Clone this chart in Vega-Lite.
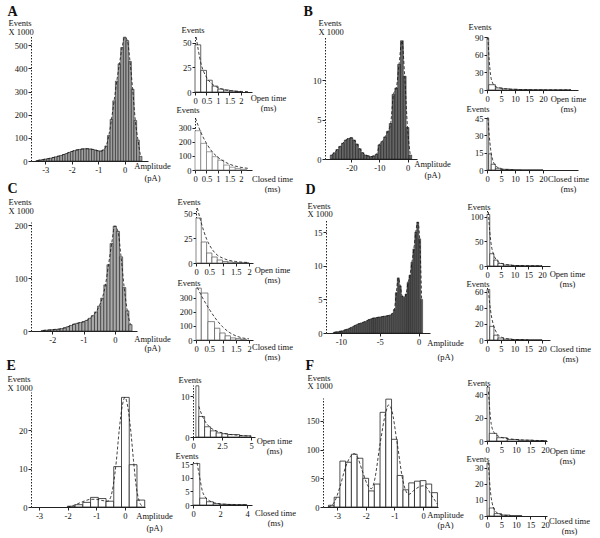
{
"$schema": "https://vega.github.io/schema/vega-lite/v6.json",
"autosize": {"type": "none"},
"width": 569, "height": 502,
"padding": {"left": 31, "top": 36, "right": 0, "bottom": 0},
"background": "white",
"config": {
  "view": {"stroke": null},
  "axis": {"labelFont": "Liberation Serif", "labelFontSize": 8.5, "labelColor": "#111", "titleFont": "Liberation Serif", "titleFontSize": 8.5, "titleFontWeight": "normal", "titleColor": "#111", "grid": false, "domainColor": "#222", "tickColor": "#222", "tickSize": 3, "labelPadding": 1, "titleAngle": 0, "labelOverlap": false, "labelFlush": false},
  "axisY": {"domainDash": [1.5, 1.5], "titleAlign": "left", "titleBaseline": "alphabetic"},
  "axisX": {"titleAlign": "center", "titleBaseline": "alphabetic"}
},
"datasets": {
  "A": [{"a":-3.3,"n":2},{"a":-3.2,"n":4},{"a":-3.1,"n":6},{"a":-3.0,"n":8},{"a":-2.9,"n":10},{"a":-2.8,"n":12},{"a":-2.7,"n":15},{"a":-2.6,"n":18},{"a":-2.5,"n":21},{"a":-2.4,"n":24},{"a":-2.3,"n":28},{"a":-2.2,"n":32},{"a":-2.1,"n":37},{"a":-2.0,"n":41},{"a":-1.9,"n":45},{"a":-1.8,"n":48},{"a":-1.7,"n":50},{"a":-1.6,"n":52},{"a":-1.5,"n":53},{"a":-1.4,"n":53},{"a":-1.3,"n":52},{"a":-1.2,"n":50},{"a":-1.1,"n":47},{"a":-1.0,"n":44},{"a":-0.9,"n":43},{"a":-0.8,"n":48},{"a":-0.7,"n":65},{"a":-0.6,"n":110},{"a":-0.5,"n":180},{"a":-0.4,"n":260},{"a":-0.3,"n":345},{"a":-0.2,"n":420},{"a":-0.1,"n":490},{"a":0.0,"n":535},{"a":0.1,"n":520},{"a":0.2,"n":430},{"a":0.3,"n":310},{"a":0.4,"n":175},{"a":0.5,"n":90},{"a":0.6,"n":20}],
  "B": [{"a":-27,"n":0.5},{"a":-26,"n":0.8},{"a":-25,"n":1.2},{"a":-24,"n":1.6},{"a":-23,"n":2.0},{"a":-22,"n":2.4},{"a":-21,"n":2.6},{"a":-20,"n":2.7},{"a":-19,"n":2.4},{"a":-18,"n":1.9},{"a":-17,"n":1.3},{"a":-16,"n":0.8},{"a":-15,"n":0.5},{"a":-14,"n":0.4},{"a":-13,"n":0.3},{"a":-12,"n":0.4},{"a":-11,"n":0.6},{"a":-10,"n":1.8},{"a":-9,"n":2.2},{"a":-8,"n":2.8},{"a":-7,"n":3.5},{"a":-6,"n":4.5},{"a":-5,"n":8.2},{"a":-4,"n":9.0},{"a":-3,"n":12.0},{"a":-2,"n":15.0},{"a":-1,"n":10.5},{"a":0,"n":4.0},{"a":1,"n":0.5}],
  "C": [{"a":-2.3,"n":1},{"a":-2.2,"n":1.5},{"a":-2.1,"n":2},{"a":-2.0,"n":2.5},{"a":-1.9,"n":3},{"a":-1.8,"n":3.5},{"a":-1.7,"n":4.5},{"a":-1.6,"n":6},{"a":-1.5,"n":8},{"a":-1.4,"n":10.5},{"a":-1.3,"n":13},{"a":-1.2,"n":14.5},{"a":-1.1,"n":16},{"a":-1.0,"n":17.5},{"a":-0.9,"n":20},{"a":-0.8,"n":24},{"a":-0.7,"n":29},{"a":-0.6,"n":36},{"a":-0.5,"n":47},{"a":-0.4,"n":62},{"a":-0.3,"n":87},{"a":-0.2,"n":125},{"a":-0.1,"n":165},{"a":0.0,"n":198},{"a":0.1,"n":188},{"a":0.2,"n":140},{"a":0.3,"n":82},{"a":0.4,"n":38},{"a":0.5,"n":12}],
  "D": [{"a":-10.875,"n":0.1},{"a":-10.625,"n":0.15},{"a":-10.375,"n":0.2},{"a":-10.125,"n":0.25},{"a":-9.875,"n":0.3},{"a":-9.625,"n":0.4},{"a":-9.375,"n":0.5},{"a":-9.125,"n":0.6},{"a":-8.875,"n":0.7},{"a":-8.625,"n":0.85},{"a":-8.375,"n":1.0},{"a":-8.125,"n":1.15},{"a":-7.875,"n":1.3},{"a":-7.625,"n":1.4},{"a":-7.375,"n":1.5},{"a":-7.125,"n":1.6},{"a":-6.875,"n":1.7},{"a":-6.625,"n":1.85},{"a":-6.375,"n":2.0},{"a":-6.125,"n":2.1},{"a":-5.875,"n":2.2},{"a":-5.625,"n":2.25},{"a":-5.375,"n":2.3},{"a":-5.125,"n":2.35},{"a":-4.875,"n":2.4},{"a":-4.625,"n":2.45},{"a":-4.375,"n":2.5},{"a":-4.125,"n":2.55},{"a":-3.875,"n":2.6},{"a":-3.625,"n":2.7},{"a":-3.375,"n":2.9},{"a":-3.125,"n":3.5},{"a":-2.875,"n":6.0},{"a":-2.625,"n":8.2},{"a":-2.375,"n":7.0},{"a":-2.125,"n":5.5},{"a":-1.875,"n":5.3},{"a":-1.625,"n":5.8},{"a":-1.375,"n":7.5},{"a":-1.125,"n":8.6},{"a":-0.875,"n":10.5},{"a":-0.625,"n":12.5},{"a":-0.375,"n":15.0},{"a":-0.125,"n":16.5},{"a":0.125,"n":14.0},{"a":0.375,"n":5.0}],
  "E_b": [{"a":-2.01,"a2":-1.74,"n":0.2},{"a":-1.74,"a2":-1.47,"n":0.6},{"a":-1.47,"a2":-1.2,"n":1.2},{"a":-1.2,"a2":-0.93,"n":2.5},{"a":-0.93,"a2":-0.66,"n":2.2},{"a":-0.66,"a2":-0.39,"n":1.5},{"a":-0.39,"a2":-0.12,"n":10.5},{"a":-0.12,"a2":0.15,"n":28.5},{"a":0.15,"a2":0.42,"n":11},{"a":0.42,"a2":0.69,"n":1.8}],
  "E_c": [{"a":-2.0,"n":0},{"a":-1.8,"n":0.4},{"a":-1.6,"n":1.0},{"a":-1.4,"n":1.6},{"a":-1.2,"n":2.0},{"a":-1.0,"n":2.0},{"a":-0.8,"n":1.7},{"a":-0.6,"n":1.5},{"a":-0.5,"n":2.5},{"a":-0.4,"n":6},{"a":-0.3,"n":12},{"a":-0.2,"n":20},{"a":-0.1,"n":26},{"a":0.0,"n":28.5},{"a":0.1,"n":26},{"a":0.2,"n":20},{"a":0.3,"n":12},{"a":0.4,"n":5},{"a":0.5,"n":1.5},{"a":0.6,"n":0.2}],
  "F_b": [{"a":-3.3,"a2":-3.1,"n":3},{"a":-3.1,"a2":-2.9,"n":17},{"a":-2.9,"a2":-2.7,"n":80},{"a":-2.7,"a2":-2.5,"n":78},{"a":-2.5,"a2":-2.3,"n":92},{"a":-2.3,"a2":-2.1,"n":85},{"a":-2.1,"a2":-1.9,"n":50},{"a":-1.9,"a2":-1.7,"n":28},{"a":-1.7,"a2":-1.5,"n":40},{"a":-1.5,"a2":-1.3,"n":165},{"a":-1.3,"a2":-1.1,"n":188},{"a":-1.1,"a2":-0.9,"n":118},{"a":-0.9,"a2":-0.7,"n":55},{"a":-0.7,"a2":-0.5,"n":30},{"a":-0.5,"a2":-0.3,"n":42},{"a":-0.3,"a2":-0.1,"n":45},{"a":-0.1,"a2":0.1,"n":46},{"a":0.1,"a2":0.3,"n":40},{"a":0.3,"a2":0.5,"n":25}],
  "F_c": [{"a":-3.3,"n":0},{"a":-3.1,"n":8},{"a":-2.9,"n":35},{"a":-2.7,"n":70},{"a":-2.5,"n":90},{"a":-2.4,"n":93},{"a":-2.3,"n":88},{"a":-2.1,"n":60},{"a":-1.9,"n":35},{"a":-1.8,"n":32},{"a":-1.7,"n":45},{"a":-1.5,"n":110},{"a":-1.3,"n":165},{"a":-1.2,"n":178},{"a":-1.1,"n":170},{"a":-0.9,"n":110},{"a":-0.7,"n":45},{"a":-0.5,"n":22},{"a":-0.3,"n":30},{"a":-0.1,"n":36},{"a":0.0,"n":37},{"a":0.1,"n":35},{"a":0.3,"n":20},{"a":0.5,"n":5}],
  "Ao_b": [{"t":0,"t2":0.25,"n":48},{"t":0.25,"t2":0.5,"n":22},{"t":0.5,"t2":0.75,"n":12},{"t":0.75,"t2":1,"n":6},{"t":1,"t2":1.25,"n":3},{"t":1.25,"t2":1.5,"n":2},{"t":1.5,"t2":1.75,"n":1},{"t":1.75,"t2":2,"n":0.5}],
  "Ao_c": [{"t":0.05,"n":56},{"t":0.25,"n":30},{"t":0.5,"n":15},{"t":0.75,"n":8},{"t":1,"n":4.5},{"t":1.25,"n":2.5},{"t":1.5,"n":1.5},{"t":1.75,"n":1},{"t":2,"n":0.6},{"t":2.3,"n":0.4}],
  "Ac_b": [{"t":0,"t2":0.25,"n":280},{"t":0.25,"t2":0.5,"n":190},{"t":0.5,"t2":0.75,"n":130},{"t":0.75,"t2":1,"n":95},{"t":1,"t2":1.25,"n":70},{"t":1.25,"t2":1.5,"n":35},{"t":1.5,"t2":1.75,"n":20},{"t":1.75,"t2":2,"n":10},{"t":2,"t2":2.25,"n":5}],
  "Ac_c": [{"t":0.02,"n":370},{"t":0.25,"n":270},{"t":0.5,"n":190},{"t":0.75,"n":130},{"t":1,"n":90},{"t":1.25,"n":62},{"t":1.5,"n":42},{"t":1.75,"n":28},{"t":2,"n":19},{"t":2.3,"n":12}],
  "Co_b": [{"t":0,"t2":0.2,"n":45},{"t":0.2,"t2":0.4,"n":21},{"t":0.4,"t2":0.6,"n":10},{"t":0.6,"t2":0.8,"n":6},{"t":0.8,"t2":1.0,"n":3},{"t":1.0,"t2":1.2,"n":1.5},{"t":1.2,"t2":1.4,"n":1},{"t":1.4,"t2":1.6,"n":0.5},{"t":1.6,"t2":1.8,"n":0.3},{"t":1.8,"t2":2.0,"n":0.2}],
  "Co_c": [{"t":0.05,"n":55},{"t":0.2,"n":40},{"t":0.4,"n":24},{"t":0.6,"n":14},{"t":0.8,"n":8},{"t":1.0,"n":5},{"t":1.2,"n":3},{"t":1.5,"n":1.5},{"t":2,"n":0.5}],
  "Cc_b": [{"t":0,"t2":0.2,"n":370},{"t":0.2,"t2":0.45,"n":335},{"t":0.45,"t2":0.7,"n":131},{"t":0.7,"t2":0.9,"n":84},{"t":0.9,"t2":1.1,"n":50},{"t":1.1,"t2":1.3,"n":30},{"t":1.3,"t2":1.5,"n":15},{"t":1.5,"t2":1.7,"n":10},{"t":1.7,"t2":1.9,"n":5}],
  "Cc_c": [{"t":0.05,"n":375},{"t":0.25,"n":300},{"t":0.5,"n":220},{"t":0.75,"n":150},{"t":1.0,"n":95},{"t":1.25,"n":55},{"t":1.5,"n":30},{"t":1.75,"n":15},{"t":2,"n":8}],
  "Eo_b": [{"t":0.25,"t2":0.5,"n":12.5},{"t":0.5,"t2":1.0,"n":5},{"t":1.0,"t2":1.5,"n":2.5},{"t":1.5,"t2":2.0,"n":1.5},{"t":2,"t2":2.5,"n":1},{"t":2.5,"t2":3,"n":0.8},{"t":3,"t2":4,"n":0.6},{"t":4,"t2":5,"n":0.3}],
  "Eo_c": [{"t":0.5,"n":7.5},{"t":0.75,"n":5.5},{"t":1,"n":4},{"t":1.5,"n":2.3},{"t":2,"n":1.5},{"t":2.5,"n":1},{"t":3,"n":0.7},{"t":4,"n":0.4},{"t":5,"n":0.2}],
  "Ec_b": [{"t":0,"t2":0.5,"n":15.2},{"t":0.5,"t2":1.0,"n":2.5},{"t":1.0,"t2":1.5,"n":1.2},{"t":1.5,"t2":2,"n":0.5},{"t":2,"t2":2.5,"n":0.3},{"t":2.5,"t2":3,"n":0.2},{"t":3,"t2":4,"n":0.1}],
  "Ec_c": [{"t":0.3,"n":15.5},{"t":0.5,"n":10},{"t":0.7,"n":5},{"t":0.9,"n":3},{"t":1.2,"n":1.6},{"t":1.6,"n":0.8},{"t":2,"n":0.4},{"t":3,"n":0.15},{"t":4,"n":0.05}],
  "Bo_b": [{"t":0,"t2":0.6,"n":88},{"t":0.6,"t2":3,"n":9},{"t":3,"t2":5.5,"n":3.5},{"t":5.5,"t2":8,"n":2},{"t":8,"t2":11,"n":1.2},{"t":11,"t2":15,"n":0.6},{"t":15,"t2":20,"n":0.3},{"t":20,"t2":30,"n":0.1}],
  "Bo_c": [{"t":0.3,"n":90},{"t":0.8,"n":50},{"t":1.3,"n":25},{"t":2,"n":12},{"t":3,"n":6},{"t":5,"n":3},{"t":8,"n":1.6},{"t":12,"n":0.8},{"t":20,"n":0.2},{"t":30,"n":0.05}],
  "Bc_b": [{"t":0,"t2":0.6,"n":45},{"t":0.6,"t2":1.5,"n":14},{"t":1.5,"t2":3,"n":5},{"t":3,"t2":5,"n":1.5},{"t":5,"t2":8,"n":0.6},{"t":8,"t2":12,"n":0.3},{"t":12,"t2":20,"n":0.1}],
  "Bc_c": [{"t":0.3,"n":45.5},{"t":0.8,"n":30},{"t":1.3,"n":18},{"t":2,"n":9},{"t":3,"n":4},{"t":4,"n":2},{"t":6,"n":0.6},{"t":10,"n":0.1}],
  "Do_b": [{"t":0,"t2":1,"n":105},{"t":1,"t2":2.5,"n":25},{"t":2.5,"t2":4,"n":12},{"t":4,"t2":6,"n":5},{"t":6,"t2":9,"n":2},{"t":9,"t2":13,"n":1},{"t":13,"t2":20,"n":0.4}],
  "Do_c": [{"t":0.5,"n":110},{"t":1,"n":70},{"t":1.5,"n":45},{"t":2.5,"n":22},{"t":3.5,"n":12},{"t":5,"n":6},{"t":7,"n":3},{"t":10,"n":1.2},{"t":15,"n":0.4},{"t":20,"n":0.1}],
  "Dc_b": [{"t":0,"t2":1,"n":63},{"t":1,"t2":2.5,"n":17},{"t":2.5,"t2":4,"n":6},{"t":4,"t2":6,"n":2.5},{"t":6,"t2":9,"n":1.2},{"t":9,"t2":13,"n":0.6},{"t":13,"t2":20,"n":0.3}],
  "Dc_c": [{"t":0.5,"n":62},{"t":1,"n":45},{"t":1.5,"n":32},{"t":2.5,"n":17},{"t":3.5,"n":9},{"t":5,"n":4},{"t":7,"n":1.8},{"t":10,"n":0.6},{"t":15,"n":0.15}],
  "Fo_b": [{"t":0,"t2":0.8,"n":46},{"t":0.8,"t2":3.4,"n":6.5},{"t":3.4,"t2":7,"n":2.8},{"t":7,"t2":11,"n":1.3},{"t":11,"t2":16,"n":0.7},{"t":16,"t2":20.5,"n":0.3}],
  "Fo_c": [{"t":0.5,"n":42},{"t":1,"n":25},{"t":1.5,"n":14},{"t":2.5,"n":7},{"t":4,"n":4},{"t":6,"n":2.5},{"t":9,"n":1.5},{"t":13,"n":0.8},{"t":18,"n":0.4},{"t":20.5,"n":0.25}],
  "Fc_b": [{"t":0,"t2":0.8,"n":33},{"t":0.8,"t2":2.5,"n":5},{"t":2.5,"t2":5,"n":1.5},{"t":5,"t2":8,"n":0.6},{"t":8,"t2":12,"n":0.3}],
  "Fc_c": [{"t":0.4,"n":33.5},{"t":0.8,"n":24},{"t":1.2,"n":15},{"t":1.8,"n":8},{"t":2.5,"n":4},{"t":3.5,"n":2},{"t":5,"n":0.8},{"t":8,"n":0.2}]
},
"layer": [
 {"data": {"name": "A"},
  "layer": [
   {"mark": {"type": "bar", "width": 2.7, "fill": "#a0a0a0", "stroke": "#222", "strokeWidth": 0.6},
    "encoding": {
     "x": {"field": "a", "type": "quantitative", "scale": {"domain": [-3.35, 0.69], "range": [0, 117], "nice": false, "zero": false}, "axis": {"orient": "bottom", "offset": -377, "values": [-3,-2,-1,0], "labelExpr": "datum.value + ''", "title": ["Amplitude", "(pA)"], "titleX": 121, "titleY": 7, "titleLineHeight": 12}},
     "y": {"field": "n", "type": "quantitative", "scale": {"domain": [0, 540], "range": [125, 0], "nice": false}, "axis": {"orient": "left", "offset": 0, "values": [0,100,200,300,400,500], "labelExpr": "datum.value + ''", "title": ["Events", "X 1000"], "titleX": -23, "titleY": -11, "titleLineHeight": 9}}}},
   {"mark": {"type": "line", "strokeDash": [3, 2], "stroke": "#111", "strokeWidth": 0.8, "interpolate": "monotone"},
    "encoding": {
     "x": {"field": "a", "type": "quantitative"},
     "y": {"field": "n", "type": "quantitative", "scale": {"domain": [0, 540], "range": [125, 0], "nice": false}, "axis": {"orient": "left", "offset": 0, "title": "A", "titleX": -24, "titleY": -21, "titleFontSize": 14, "titleFontWeight": "bold", "labels": false, "ticks": false, "domain": false}}}}
  ],
  "resolve": {"scale": {"y": "independent"}, "axis": {"y": "independent"}}},
 {"layer": [
   {"data": {"name": "Ao_b"}, "mark": {"type": "bar", "fill": "white", "stroke": "#222", "strokeWidth": 0.7},
    "encoding": {
     "x": {"field": "t", "type": "quantitative", "scale": {"domain": [0, 2.48], "range": [164, 221], "nice": false}, "axis": {"orient": "bottom", "offset": -446, "values": [0,0.5,1,1.5,2], "labelExpr": "datum.value + ''", "title": ["Open time", "(ms)"], "titleX": 237, "titleY": 8, "titleLineHeight": 10}},
     "x2": {"field": "t2"},
     "y": {"field": "n", "type": "quantitative", "scale": {"domain": [0, 57], "range": [56, 0], "nice": false}, "axis": {"orient": "left", "offset": -164, "values": [0,25,50], "labelExpr": "datum.value + ''", "title": "Events", "titleX": -14, "titleY": -4}},
     "y2": {"datum": 0}}},
   {"data": {"name": "Ao_c"}, "mark": {"type": "line", "strokeDash": [3, 2], "stroke": "#111", "strokeWidth": 0.8, "interpolate": "monotone"},
    "encoding": {"x": {"field": "t", "type": "quantitative"}, "y": {"field": "n", "type": "quantitative"}}}
 ]},
 {"layer": [
   {"data": {"name": "Ac_b"}, "mark": {"type": "bar", "fill": "white", "stroke": "#777", "strokeWidth": 0.7},
    "encoding": {
     "x": {"field": "t", "type": "quantitative", "scale": {"domain": [0, 2.48], "range": [164, 221], "nice": false}, "axis": {"orient": "bottom", "offset": -368, "values": [0,0.5,1,1.5,2], "labelExpr": "datum.value + ''", "title": ["Closed time", "(ms)"], "titleX": 241, "titleY": 11, "titleLineHeight": 10}},
     "x2": {"field": "t2"},
     "y": {"field": "n", "type": "quantitative", "scale": {"domain": [0, 378], "range": [134, 81], "nice": false}, "axis": {"orient": "left", "offset": -164, "values": [0,100,200,300], "labelExpr": "datum.value + ''", "title": "Events", "titleX": -19, "titleY": 76}},
     "y2": {"datum": 0}}},
   {"data": {"name": "Ac_c"}, "mark": {"type": "line", "strokeDash": [3, 2], "stroke": "#111", "strokeWidth": 0.8, "interpolate": "monotone"},
    "encoding": {"x": {"field": "t", "type": "quantitative"}, "y": {"field": "n", "type": "quantitative"}}}
 ]},
 {"data": {"name": "B"},
  "layer": [
   {"mark": {"type": "bar", "width": 2.8, "fill": "#666", "stroke": "#111", "strokeWidth": 0.5},
    "encoding": {
     "x": {"field": "a", "type": "quantitative", "scale": {"domain": [-27.6, 1.6], "range": [294, 386], "nice": false, "zero": false}, "axis": {"orient": "bottom", "offset": -379, "values": [-20,-10,0], "labelExpr": "datum.value + ''", "title": ["Amplitude", "(pA)"], "titleX": 401, "titleY": 7, "titleLineHeight": 11}},
     "y": {"field": "n", "type": "quantitative", "scale": {"domain": [0, 15.6], "range": [123, 0], "nice": false}, "axis": {"orient": "left", "offset": -294, "values": [0,5,10], "labelExpr": "datum.value + ''", "title": ["Events", "X 1000"], "titleX": -7, "titleY": -11, "titleLineHeight": 9}}}},
   {"mark": {"type": "line", "strokeDash": [3, 2], "stroke": "#111", "strokeWidth": 0.8, "interpolate": "monotone"},
    "encoding": {
     "x": {"field": "a", "type": "quantitative"},
     "y": {"field": "n", "type": "quantitative", "scale": {"domain": [0, 15.6], "range": [123, 0], "nice": false}, "axis": {"orient": "left", "offset": -294, "title": "B", "titleX": -22, "titleY": -21, "titleFontSize": 14, "titleFontWeight": "bold", "labels": false, "ticks": false, "domain": false}}}}
  ],
  "resolve": {"scale": {"y": "independent"}, "axis": {"y": "independent"}}},
 {"layer": [
   {"data": {"name": "Bo_b"}, "mark": {"type": "bar", "fill": "white", "stroke": "#222", "strokeWidth": 0.7},
    "encoding": {
     "x": {"field": "t", "type": "quantitative", "scale": {"domain": [0, 32.5], "range": [456, 547], "nice": false}, "axis": {"orient": "bottom", "offset": -448, "values": [0,5,10,15,20], "labelExpr": "datum.value + ''", "title": ["Open time", "(ms)"], "titleX": 537, "titleY": 11, "titleLineHeight": 10}},
     "x2": {"field": "t2"},
     "y": {"field": "n", "type": "quantitative", "scale": {"domain": [0, 91.7], "range": [54, 0], "nice": false}, "axis": {"orient": "left", "offset": -456, "values": [0,30,60,90], "labelExpr": "datum.value + ''", "title": "Events", "titleX": -19, "titleY": -7}},
     "y2": {"datum": 0}}},
   {"data": {"name": "Bo_c"}, "mark": {"type": "line", "strokeDash": [3, 2], "stroke": "#111", "strokeWidth": 0.8, "interpolate": "monotone"},
    "encoding": {"x": {"field": "t", "type": "quantitative"}, "y": {"field": "n", "type": "quantitative"}}}
 ]},
 {"layer": [
   {"data": {"name": "Bc_b"}, "mark": {"type": "bar", "fill": "white", "stroke": "#222", "strokeWidth": 0.7},
    "encoding": {
     "x": {"field": "t", "type": "quantitative", "scale": {"domain": [0, 32.5], "range": [456, 547], "nice": false}, "axis": {"orient": "bottom", "offset": -368, "values": [0,5,10,15,20], "labelExpr": "datum.value + ''", "title": ["Closed time", "(ms)"], "titleX": 537, "titleY": 11, "titleLineHeight": 10}},
     "x2": {"field": "t2"},
     "y": {"field": "n", "type": "quantitative", "scale": {"domain": [0, 46], "range": [134, 81], "nice": false}, "axis": {"orient": "left", "offset": -456, "values": [0,15,30,45], "labelExpr": "datum.value + ''", "title": "Events", "titleX": -21, "titleY": 75}},
     "y2": {"datum": 0}}},
   {"data": {"name": "Bc_c"}, "mark": {"type": "line", "strokeDash": [3, 2], "stroke": "#111", "strokeWidth": 0.8, "interpolate": "monotone"},
    "encoding": {"x": {"field": "t", "type": "quantitative"}, "y": {"field": "n", "type": "quantitative"}}}
 ]},
 {"data": {"name": "C"},
  "layer": [
   {"mark": {"type": "bar", "width": 3.2, "fill": "#aaa", "stroke": "#222", "strokeWidth": 0.6},
    "encoding": {
     "x": {"field": "a", "type": "quantitative", "scale": {"domain": [-2.52, 0.55], "range": [0, 106], "nice": false, "zero": false}, "axis": {"orient": "bottom", "offset": -207, "values": [-2,-1,0], "labelExpr": "datum.value + ''", "title": ["Amplitude", "(pA)"], "titleX": 121, "titleY": 10, "titleLineHeight": 9}},
     "y": {"field": "n", "type": "quantitative", "scale": {"domain": [0, 205.7], "range": [295, 186], "nice": false}, "axis": {"orient": "left", "offset": 0, "values": [0,100,200], "labelExpr": "datum.value + ''", "title": ["Events", "X 1000"], "titleX": -23, "titleY": 168, "titleLineHeight": 9}}}},
   {"mark": {"type": "line", "strokeDash": [3, 2], "stroke": "#111", "strokeWidth": 0.8, "interpolate": "monotone"},
    "encoding": {
     "x": {"field": "a", "type": "quantitative"},
     "y": {"field": "n", "type": "quantitative", "scale": {"domain": [0, 205.7], "range": [295, 186], "nice": false}, "axis": {"orient": "left", "offset": 0, "title": "C", "titleX": -24, "titleY": 156, "titleFontSize": 14, "titleFontWeight": "bold", "labels": false, "ticks": false, "domain": false}}}}
  ],
  "resolve": {"scale": {"y": "independent"}, "axis": {"y": "independent"}}},
 {"layer": [
   {"data": {"name": "Co_b"}, "mark": {"type": "bar", "fill": "white", "stroke": "#555", "strokeWidth": 0.7},
    "encoding": {
     "x": {"field": "t", "type": "quantitative", "scale": {"domain": [0, 2.15], "range": [165, 222], "nice": false}, "axis": {"orient": "bottom", "offset": -275, "values": [0,0.5,1,1.5,2], "labelExpr": "datum.value + ''", "title": ["Open time", "(ms)"], "titleX": 241, "titleY": 9, "titleLineHeight": 10}},
     "x2": {"field": "t2"},
     "y": {"field": "n", "type": "quantitative", "scale": {"domain": [0, 55], "range": [227, 172], "nice": false}, "axis": {"orient": "left", "offset": -165, "values": [0,25,50], "labelExpr": "datum.value + ''", "title": "Events", "titleX": -19, "titleY": 168}},
     "y2": {"datum": 0}}},
   {"data": {"name": "Co_c"}, "mark": {"type": "line", "strokeDash": [3, 2], "stroke": "#111", "strokeWidth": 0.8, "interpolate": "monotone"},
    "encoding": {"x": {"field": "t", "type": "quantitative"}, "y": {"field": "n", "type": "quantitative"}}}
 ]},
 {"layer": [
   {"data": {"name": "Cc_b"}, "mark": {"type": "bar", "fill": "white", "stroke": "#555", "strokeWidth": 0.7},
    "encoding": {
     "x": {"field": "t", "type": "quantitative", "scale": {"domain": [0, 2.15], "range": [165, 222], "nice": false}, "axis": {"orient": "bottom", "offset": -198, "values": [0,0.5,1,1.5,2], "labelExpr": "datum.value + ''", "title": ["Closed time", "(ms)"], "titleX": 241, "titleY": 9, "titleLineHeight": 10}},
     "x2": {"field": "t2"},
     "y": {"field": "n", "type": "quantitative", "scale": {"domain": [0, 378], "range": [304, 251], "nice": false}, "axis": {"orient": "left", "offset": -165, "values": [0,100,200,300], "labelExpr": "datum.value + ''", "title": "Events", "titleX": -19, "titleY": 249}},
     "y2": {"datum": 0}}},
   {"data": {"name": "Cc_c"}, "mark": {"type": "line", "strokeDash": [3, 2], "stroke": "#111", "strokeWidth": 0.8, "interpolate": "monotone"},
    "encoding": {"x": {"field": "t", "type": "quantitative"}, "y": {"field": "n", "type": "quantitative"}}}
 ]},
 {"data": {"name": "D"},
  "layer": [
   {"mark": {"type": "bar", "width": 2.0, "fill": "#555", "stroke": "#111", "strokeWidth": 0.4},
    "encoding": {
     "x": {"field": "a", "type": "quantitative", "scale": {"domain": [-11.28, 0.81], "range": [295, 399], "nice": false, "zero": false}, "axis": {"orient": "bottom", "offset": -205, "values": [-10,-5,0], "labelExpr": "datum.value + ''", "title": ["Amplitude", "(pA)"], "titleX": 414, "titleY": 12, "titleLineHeight": 14}},
     "y": {"field": "n", "type": "quantitative", "scale": {"domain": [0, 16.8], "range": [297, 184], "nice": false}, "axis": {"orient": "left", "offset": -295, "values": [0,5,10,15], "labelExpr": "datum.value + ''", "title": ["Events", "X 1000"], "titleX": -19, "titleY": 172, "titleLineHeight": 8}}}},
   {"mark": {"type": "line", "strokeDash": [3, 2], "stroke": "#111", "strokeWidth": 0.8, "interpolate": "monotone"},
    "encoding": {
     "x": {"field": "a", "type": "quantitative"},
     "y": {"field": "n", "type": "quantitative", "scale": {"domain": [0, 16.8], "range": [297, 184], "nice": false}, "axis": {"orient": "left", "offset": -295, "title": "D", "titleX": -21, "titleY": 157, "titleFontSize": 14, "titleFontWeight": "bold", "labels": false, "ticks": false, "domain": false}}}}
  ],
  "resolve": {"scale": {"y": "independent"}, "axis": {"y": "independent"}}},
 {"layer": [
   {"data": {"name": "Do_b"}, "mark": {"type": "bar", "fill": "white", "stroke": "#222", "strokeWidth": 0.7},
    "encoding": {
     "x": {"field": "t", "type": "quantitative", "scale": {"domain": [0, 22.9], "range": [456, 519], "nice": false}, "axis": {"orient": "bottom", "offset": -272, "values": [0,5,10,15,20], "labelExpr": "datum.value + ''", "title": ["Open time", "(ms)"], "titleX": 536, "titleY": 10, "titleLineHeight": 10}},
     "x2": {"field": "t2"},
     "y": {"field": "n", "type": "quantitative", "scale": {"domain": [0, 114], "range": [230, 174], "nice": false}, "axis": {"orient": "left", "offset": -456, "values": [0,50,100], "labelExpr": "datum.value + ''", "title": "Events", "titleX": -20, "titleY": 173}},
     "y2": {"datum": 0}}},
   {"data": {"name": "Do_c"}, "mark": {"type": "line", "strokeDash": [3, 2], "stroke": "#111", "strokeWidth": 0.8, "interpolate": "monotone"},
    "encoding": {"x": {"field": "t", "type": "quantitative"}, "y": {"field": "n", "type": "quantitative"}}}
 ]},
 {"layer": [
   {"data": {"name": "Dc_b"}, "mark": {"type": "bar", "fill": "white", "stroke": "#222", "strokeWidth": 0.7},
    "encoding": {
     "x": {"field": "t", "type": "quantitative", "scale": {"domain": [0, 22.9], "range": [456, 519], "nice": false}, "axis": {"orient": "bottom", "offset": -198, "values": [0,5,10,15,20], "labelExpr": "datum.value + ''", "title": ["Closed time", "(ms)"], "titleX": 539, "titleY": 11, "titleLineHeight": 10}},
     "x2": {"field": "t2"},
     "y": {"field": "n", "type": "quantitative", "scale": {"domain": [0, 66], "range": [304, 251], "nice": false}, "axis": {"orient": "left", "offset": -456, "values": [0,20,40,60], "labelExpr": "datum.value + ''", "title": "Events", "titleX": -21, "titleY": 250}},
     "y2": {"datum": 0}}},
   {"data": {"name": "Dc_c"}, "mark": {"type": "line", "strokeDash": [3, 2], "stroke": "#111", "strokeWidth": 0.8, "interpolate": "monotone"},
    "encoding": {"x": {"field": "t", "type": "quantitative"}, "y": {"field": "n", "type": "quantitative"}}}
 ]},
 {"layer": [
   {"data": {"name": "E_b"}, "mark": {"type": "bar", "fill": "white", "stroke": "#222", "strokeWidth": 0.8},
    "encoding": {
     "x": {"field": "a", "type": "quantitative", "scale": {"domain": [-3.28, 0.70], "range": [0, 114], "nice": false, "zero": false}, "axis": {"orient": "bottom", "offset": -31, "values": [-3,-2,-1,0], "labelExpr": "datum.value + ''", "title": ["Amplitude", "(pA)"], "titleX": 123, "titleY": 11, "titleLineHeight": 12}},
     "x2": {"field": "a2"},
     "y": {"field": "n", "type": "quantitative", "scale": {"domain": [0, 29.9], "range": [471, 356], "nice": false}, "axis": {"orient": "left", "offset": 0, "values": [0,10,20], "labelExpr": "datum.value + ''", "title": ["Events", "X 1000"], "titleX": -24, "titleY": 345, "titleLineHeight": 9}},
     "y2": {"datum": 0}}},
   {"data": {"name": "E_c"}, "mark": {"type": "line", "strokeDash": [3, 2], "stroke": "#111", "strokeWidth": 0.8, "interpolate": "monotone"},
    "encoding": {
     "x": {"field": "a", "type": "quantitative"},
     "y": {"field": "n", "type": "quantitative", "scale": {"domain": [0, 29.9], "range": [471, 356], "nice": false}, "axis": {"orient": "left", "offset": 0, "title": "E", "titleX": -25, "titleY": 333, "titleFontSize": 14, "titleFontWeight": "bold", "labels": false, "ticks": false, "domain": false}}}}
  ],
  "resolve": {"scale": {"y": "independent"}, "axis": {"y": "independent"}}},
 {"layer": [
   {"data": {"name": "Eo_b"}, "mark": {"type": "bar", "fill": "white", "stroke": "#222", "strokeWidth": 0.7},
    "encoding": {
     "x": {"field": "t", "type": "quantitative", "scale": {"domain": [0, 5.34], "range": [162, 224], "nice": false}, "axis": {"orient": "bottom", "offset": -101, "values": [0,2.5,5], "labelExpr": "datum.value + ''", "title": ["Open time", "(ms)"], "titleX": 243, "titleY": 6, "titleLineHeight": 10}},
     "x2": {"field": "t2"},
     "y": {"field": "n", "type": "quantitative", "scale": {"domain": [0, 12.7], "range": [401, 349], "nice": false}, "axis": {"orient": "left", "offset": -162, "values": [0,10], "labelExpr": "datum.value + ''", "title": "Events", "titleX": -15, "titleY": 346}},
     "y2": {"datum": 0}}},
   {"data": {"name": "Eo_c"}, "mark": {"type": "line", "strokeDash": [3, 2], "stroke": "#111", "strokeWidth": 0.8, "interpolate": "monotone"},
    "encoding": {"x": {"field": "t", "type": "quantitative"}, "y": {"field": "n", "type": "quantitative"}}}
 ]},
 {"layer": [
   {"data": {"name": "Ec_b"}, "mark": {"type": "bar", "fill": "white", "stroke": "#222", "strokeWidth": 0.7},
    "encoding": {
     "x": {"field": "t", "type": "quantitative", "scale": {"domain": [0, 4.37], "range": [162, 221], "nice": false}, "axis": {"orient": "bottom", "offset": -33, "values": [0,2,4], "labelExpr": "datum.value + ''", "title": ["Closed time", "(ms)"], "titleX": 244, "titleY": 10, "titleLineHeight": 10}},
     "x2": {"field": "t2"},
     "y": {"field": "n", "type": "quantitative", "scale": {"domain": [0, 16.5], "range": [469, 424], "nice": false}, "axis": {"orient": "left", "offset": -162, "values": [0,5,10,15], "labelExpr": "datum.value + ''", "title": "Events", "titleX": -18, "titleY": 422}},
     "y2": {"datum": 0}}},
   {"data": {"name": "Ec_c"}, "mark": {"type": "line", "strokeDash": [3, 2], "stroke": "#111", "strokeWidth": 0.8, "interpolate": "monotone"},
    "encoding": {"x": {"field": "t", "type": "quantitative"}, "y": {"field": "n", "type": "quantitative"}}}
 ]},
 {"layer": [
   {"data": {"name": "F_b"}, "mark": {"type": "bar", "fill": "white", "stroke": "#222", "strokeWidth": 0.8},
    "encoding": {
     "x": {"field": "a", "type": "quantitative", "scale": {"domain": [-3.49, 0.52], "range": [292, 407], "nice": false, "zero": false}, "axis": {"orient": "bottom", "offset": -31, "values": [-3,-2,-1,0], "labelExpr": "datum.value + ''", "title": ["Amplitude", "(pA)"], "titleX": 414, "titleY": 10, "titleLineHeight": 10}},
     "x2": {"field": "a2"},
     "y": {"field": "n", "type": "quantitative", "scale": {"domain": [0, 190], "range": [471, 362], "nice": false}, "axis": {"orient": "left", "offset": -292, "values": [0,50,100,150], "labelExpr": "datum.value + ''", "title": ["Events", "X 1000"], "titleX": -16, "titleY": 344, "titleLineHeight": 8}},
     "y2": {"datum": 0}}},
   {"data": {"name": "F_c"}, "mark": {"type": "line", "strokeDash": [3, 2], "stroke": "#111", "strokeWidth": 0.8, "interpolate": "monotone"},
    "encoding": {
     "x": {"field": "a", "type": "quantitative"},
     "y": {"field": "n", "type": "quantitative", "scale": {"domain": [0, 190], "range": [471, 362], "nice": false}, "axis": {"orient": "left", "offset": -292, "title": "F", "titleX": -18, "titleY": 333, "titleFontSize": 14, "titleFontWeight": "bold", "labels": false, "ticks": false, "domain": false}}}}
  ],
  "resolve": {"scale": {"y": "independent"}, "axis": {"y": "independent"}}},
 {"layer": [
   {"data": {"name": "Fo_b"}, "mark": {"type": "bar", "fill": "white", "stroke": "#222", "strokeWidth": 0.7},
    "encoding": {
     "x": {"field": "t", "type": "quantitative", "scale": {"domain": [0, 20.7], "range": [456, 516], "nice": false}, "axis": {"orient": "bottom", "offset": -97, "values": [0,5,10,15,20], "labelExpr": "datum.value + ''", "title": ["Open time", "(ms)"], "titleX": 536, "titleY": 12, "titleLineHeight": 10}},
     "x2": {"field": "t2"},
     "y": {"field": "n", "type": "quantitative", "scale": {"domain": [0, 47.7], "range": [405, 349], "nice": false}, "axis": {"orient": "left", "offset": -456, "values": [0,20,40], "labelExpr": "datum.value + ''", "title": "Events", "titleX": -20, "titleY": 349}},
     "y2": {"datum": 0}}},
   {"data": {"name": "Fo_c"}, "mark": {"type": "line", "strokeDash": [3, 2], "stroke": "#111", "strokeWidth": 0.8, "interpolate": "monotone"},
    "encoding": {"x": {"field": "t", "type": "quantitative"}, "y": {"field": "n", "type": "quantitative"}}}
 ]},
 {"layer": [
   {"data": {"name": "Fc_b"}, "mark": {"type": "bar", "fill": "white", "stroke": "#222", "strokeWidth": 0.7},
    "encoding": {
     "x": {"field": "t", "type": "quantitative", "scale": {"domain": [0, 20.7], "range": [456, 516], "nice": false}, "axis": {"orient": "bottom", "offset": -22, "values": [0,5,10,15,20], "labelExpr": "datum.value + ''", "title": ["Closed time", "(ms)"], "titleX": 538, "titleY": 7, "titleLineHeight": 10}},
     "x2": {"field": "t2"},
     "y": {"field": "n", "type": "quantitative", "scale": {"domain": [0, 33.7], "range": [480, 426], "nice": false}, "axis": {"orient": "left", "offset": -456, "values": [0,10,20,30], "labelExpr": "datum.value + ''", "title": "Events", "titleX": -21, "titleY": 425}},
     "y2": {"datum": 0}}},
   {"data": {"name": "Fc_c"}, "mark": {"type": "line", "strokeDash": [3, 2], "stroke": "#111", "strokeWidth": 0.8, "interpolate": "monotone"},
    "encoding": {"x": {"field": "t", "type": "quantitative"}, "y": {"field": "n", "type": "quantitative"}}}
 ]}
],
"resolve": {"scale": {"x": "independent", "y": "independent"}, "axis": {"x": "independent", "y": "independent"}}
}
